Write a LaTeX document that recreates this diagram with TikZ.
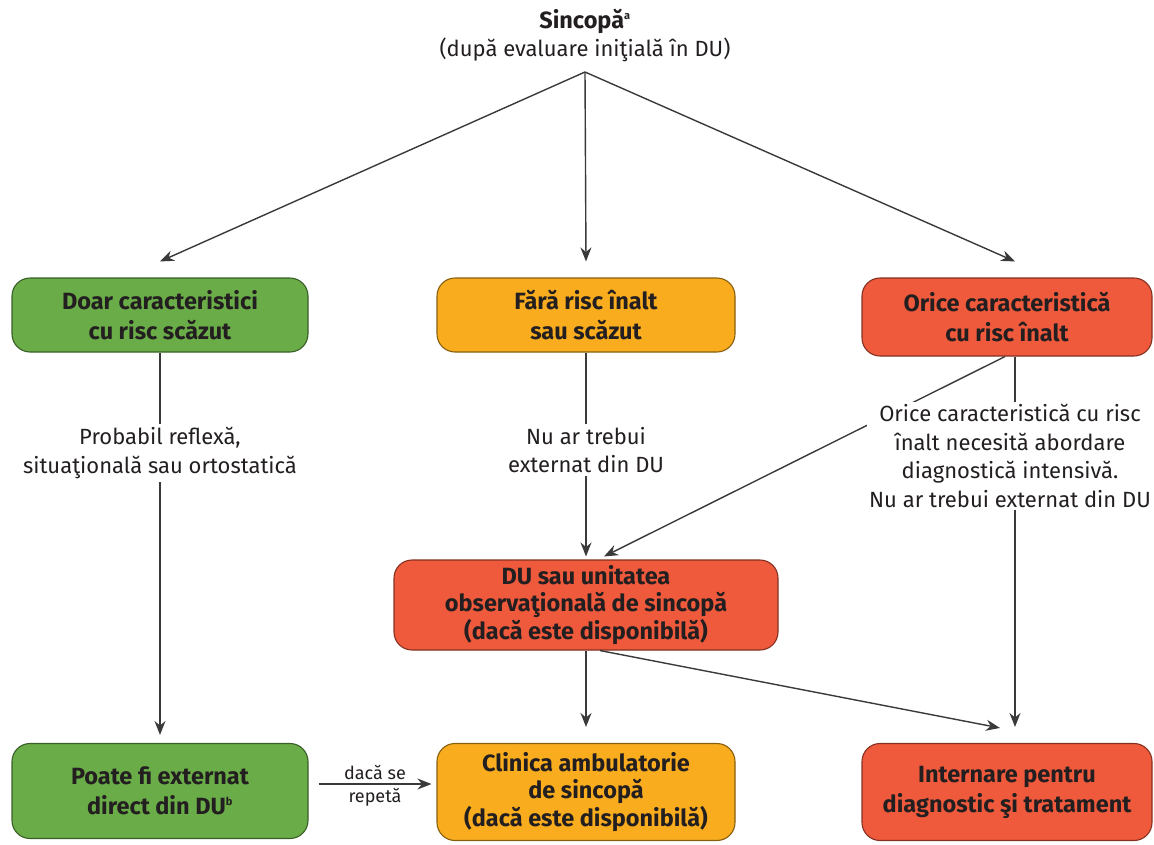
\documentclass[tikz,border=0pt]{standalone}
\usepackage{fontspec}
\setmainfont{Fira Sans}
\usetikzlibrary{arrows.meta}

\definecolor{lowrisk}{HTML}{6AAC48}
\definecolor{midrisk}{HTML}{F8AC1E}
\definecolor{highrisk}{HTML}{F05A3C}
\definecolor{inkcol}{HTML}{231F20}
\definecolor{linecol}{HTML}{3A3A3A}

\tikzset{
  stage/.style={draw=#1!55!black, fill=#1, line width=1.1pt, rounded corners=18pt,
    align=center, inner sep=0pt, text=inkcol,
    font=\bfseries\fontsize{23.5}{30}\selectfont},
  tall/.style={font=\bfseries\fontsize{23.5}{27.5}\selectfont},
  note/.style={fill=white, align=center, inner sep=3pt, text=inkcol,
    font=\fontsize{22}{28.7}\selectfont},
  link/.style={draw=linecol, line width=1.4pt},
  flow/.style={link, -{Stealth[length=14pt,width=11pt]}}
}

\begin{document}
\begin{tikzpicture}[x=1pt,y=-1pt]
\useasboundingbox (0,0) rectangle (1154,844);

% heading
\node[text=inkcol, font=\bfseries\fontsize{23.5}{28}\selectfont] (title) at (585,21) {Sincopă\textsuperscript{\fontsize{11}{11}\selectfont a}};
\node[text=inkcol, font=\fontsize{22}{28}\selectfont] (sub) at (585,50) {(după evaluare iniţială în DU)};
\coordinate (src) at (585,72);

% risk categories
\node[stage=lowrisk, minimum width=296pt, minimum height=74pt] (b1) at (160,315)
  {Doar caracteristici\\cu risc scăzut};
\node[stage=midrisk, minimum width=298pt, minimum height=74pt] (b2) at (586,315)
  {Fără risc înalt\\sau scăzut};
\node[stage=highrisk, minimum width=290pt, minimum height=78pt] (b3) at (1007,317)
  {Orice caracteristică\\cu risc înalt};

% observation unit
\node[stage=highrisk, tall, minimum width=384pt, minimum height=90pt] (du) at (586,605)
  {DU sau unitatea\\observaţională de sincopă\\(dacă este disponibilă)};

% outcomes
\node[stage=lowrisk, minimum width=296pt, minimum height=95pt] (b4) at (160,791)
  {Poate fi externat\\direct din DU\textsuperscript{\fontsize{11}{11}\selectfont b}};
\node[stage=midrisk, tall, minimum width=298pt, minimum height=97pt] (b5) at (586,792)
  {Clinica ambulatorie\\de sincopă\\(dacă este disponibilă)};
\node[stage=highrisk, minimum width=290pt, minimum height=97pt] (b6) at (1007,792)
  {Internare pentru\\diagnostic şi tratament};

% connectors
\draw[flow] (src) -- ([yshift=16pt]b1.north);
\draw[flow] (src) -- ([yshift=16pt]b2.north);
\draw[flow] (src) -- ([xshift=8pt,yshift=16pt]b3.north);

\draw[flow] (b1.south) -- ([yshift=8pt]b4.north);
\draw[flow] (b2.south) -- ([yshift=3pt]du.north);
\draw[flow] ([xshift=-2pt]b3.south) -- ([xshift=18pt,yshift=3pt]du.north);
\draw[flow] ([xshift=8pt]b3.south) -- ([xshift=8pt,yshift=16pt]b6.north);

\draw[flow] (du.south) -- ([yshift=16pt]b5.north);
\draw[flow] ([xshift=14pt]du.south) -- ([xshift=-7pt,yshift=15pt]b6.north);

\draw[flow] ([xshift=10pt,yshift=7pt]b4.east) -- ([xshift=-5pt,yshift=8pt]b5.west)
  node[midway, above=0pt, text=inkcol, font=\fontsize{18}{20}\selectfont] (rep1) {dacă se}
  node[midway, below=0pt, text=inkcol, font=\fontsize{18}{20}\selectfont] (rep2) {repetă};

% notes on the connectors
\node[note] (t1) at (160,453) {Probabil reflexă,\\situaţională sau ortostatică};
\node[note] (t2) at (586,450) {Nu ar trebui\\externat din DU};
\node[note, inner sep=2pt] (t3) at (1010,456) {Orice caracteristică cu risc\\înalt necesită abordare\\diagnostică intensivă.\\Nu ar trebui externat din DU};
\end{tikzpicture}
\end{document}
